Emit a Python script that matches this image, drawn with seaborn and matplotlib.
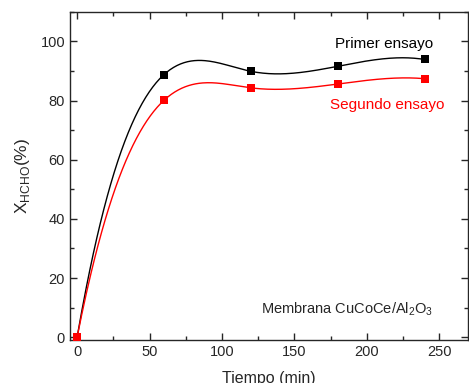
import numpy as np
import pandas as pd
import matplotlib
matplotlib.use("Agg")
import matplotlib.pyplot as plt
import seaborn as sns
from matplotlib.ticker import MultipleLocator

sns.set_style("ticks")
plt.rcParams['font.family'] = ['Liberation Sans', 'DejaVu Sans']

# datos
tiempo = [0, 60, 120, 180, 240]
primer = [0, 88.8, 89.9, 91.6, 93.9]
segundo = [0, 80.1, 84.3, 85.6, 87.4]


def spline_suave(x, y, n=300):
    # spline cúbico "not-a-knot" para la curva suave (como en Origin)
    x = np.asarray(x, float)
    y = np.asarray(y, float)
    k = len(x)
    h = np.diff(x)
    A = np.zeros((k, k))
    b = np.zeros(k)
    A[0, 0], A[0, 1], A[0, 2] = -h[1], h[0] + h[1], -h[0]
    A[-1, -3], A[-1, -2], A[-1, -1] = -h[-1], h[-2] + h[-1], -h[-2]
    for i in range(1, k - 1):
        A[i, i - 1] = h[i - 1]
        A[i, i] = 2 * (h[i - 1] + h[i])
        A[i, i + 1] = h[i]
        b[i] = 6 * ((y[i + 1] - y[i]) / h[i] - (y[i] - y[i - 1]) / h[i - 1])
    M = np.linalg.solve(A, b)
    xs = np.linspace(x[0], x[-1], n)
    idx = np.clip(np.searchsorted(x, xs) - 1, 0, k - 2)
    x0, x1 = x[idx], x[idx + 1]
    hh = x1 - x0
    ys = (M[idx] * (x1 - xs) ** 3 / (6 * hh) + M[idx + 1] * (xs - x0) ** 3 / (6 * hh)
          + (y[idx] / hh - M[idx] * hh / 6) * (x1 - xs)
          + (y[idx + 1] / hh - M[idx + 1] * hh / 6) * (xs - x0))
    return xs, ys


fig = plt.figure(figsize=(4.69, 3.83), dpi=100)
ax = fig.add_axes([0.149, 0.112, 0.849, 0.857])

for serie, color in [(primer, 'black'), (segundo, 'red')]:
    xs, ys = spline_suave(tiempo, serie)
    sns.lineplot(x=xs, y=ys, color=color, linewidth=1, ax=ax)
    sns.scatterplot(x=tiempo, y=serie, color=color, marker='s', s=30,
                    edgecolor=color, linewidth=0, ax=ax, zorder=3)

ax.set_xlim(-5, 270)
ax.set_ylim(-1, 110)
ax.xaxis.set_major_locator(MultipleLocator(50))
ax.xaxis.set_minor_locator(MultipleLocator(25))
ax.yaxis.set_major_locator(MultipleLocator(20))
ax.yaxis.set_minor_locator(MultipleLocator(10))
ax.tick_params(which='both', direction='in', top=True, right=True, labelsize=10.5, width=1)
ax.tick_params(which='major', length=5)
ax.tick_params(which='minor', length=3)
for s in ax.spines.values():
    s.set_linewidth(1)

ax.set_xlabel('Tiempo (min)', fontsize=11.5, labelpad=9)
ax.set_ylabel(r'X$_{\mathregular{HCHO}}$(%)', fontsize=12.5, labelpad=6)

ax.text(212, 99, 'Primer ensayo', color='black', fontsize=11, ha='center', va='center')
ax.text(214, 78.5, 'Segundo ensayo', color='red', fontsize=11, ha='center', va='center')
ax.text(127, 9.5, r'Membrana CuCoCe/Al$_{\mathregular{2}}$O$_{\mathregular{3}}$',
        fontsize=10.5, ha='left', va='center')

fig.savefig('out.png', dpi=100)
